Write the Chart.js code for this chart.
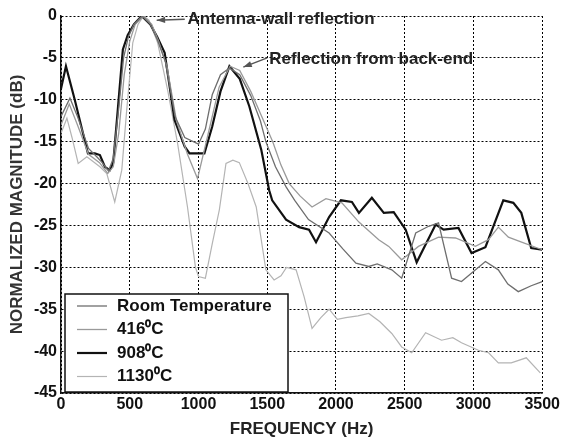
<!DOCTYPE html>
<html>
<head>
<meta charset="utf-8">
<script src="https://cdn.jsdelivr.net/npm/chart.js@4.4.1/dist/chart.umd.min.js"></script>
<style>
  html, body { margin: 0; padding: 0; background: #fff; }
  #wrap { width: 562px; height: 440px; }
</style>
</head>
<body>
<div id="wrap"><canvas id="myChart" width="562" height="440"></canvas></div>
<script>
// x ticks and y ticks
let freqTicks = [0, 500, 1000, 1500, 2000, 2500, 3000, 3500];
let dbTicks = [0, -5, -10, -15, -20, -25, -30, -35, -40, -45];

let seriesNames = ["Room Temperature", "416\u2070C", "908\u2070C", "1130\u2070C"];

// Room Temperature
let roomFreq = [0, 65, 120, 200, 260, 300, 345, 380, 420, 455, 490, 530, 590, 650, 700, 760, 830, 900, 1000, 1050, 1100, 1160, 1225, 1300, 1380, 1450, 1490, 1560, 1637, 1700, 1800, 1950, 2050, 2145, 2239, 2300, 2406, 2478, 2580, 2674, 2746, 2841, 2913, 3000, 3087, 3181, 3250, 3326, 3420, 3500];
let roomDb = [-12, -9.8, -12, -15.8, -16.8, -17.5, -18.5, -17, -11, -5, -2.5, -1, 0, -1, -2.8, -5.5, -12, -14.5, -15.3, -13.5, -9.4, -7, -6.2, -7, -9.5, -12.5, -15, -18, -20.4, -22, -24.3, -25.9, -27.8, -29.5, -29.9, -29.6, -30.3, -31.3, -25.9, -25.1, -24.7, -31.3, -31.7, -30.5, -29.3, -30.3, -32, -32.9, -32.2, -31.7];

// 416 C
let t416Freq = [0, 60, 120, 200, 280, 340, 380, 420, 460, 500, 540, 600, 660, 710, 770, 840, 920, 993, 1080, 1150, 1230, 1300, 1380, 1460, 1540, 1600, 1660, 1740, 1826, 1927, 2043, 2167, 2311, 2384, 2478, 2600, 2746, 2870, 3014, 3109, 3181, 3254, 3350, 3500];
let t416Db = [-13, -10.5, -13, -16.5, -17.5, -18.8, -18, -14, -7, -3, -1, 0, -1, -3, -6, -12.5, -16.5, -19.4, -13.4, -8.5, -6, -6.5, -9, -12, -15, -17.8, -20, -21.5, -22.8, -21.8, -22.3, -24.6, -26.7, -27.5, -29.1, -27.5, -26.4, -26.5, -27.5, -26.7, -25.2, -26.4, -27, -27.9];

// 908 C
let t908Freq = [0, 36, 100, 196, 246, 283, 319, 355, 380, 413, 450, 485, 530, 587, 650, 700, 754, 826, 900, 935, 1043, 1100, 1160, 1225, 1300, 1370, 1457, 1514, 1536, 1637, 1732, 1804, 1855, 1950, 2036, 2116, 2167, 2261, 2348, 2420, 2507, 2587, 2725, 2783, 2891, 2986, 3087, 3217, 3290, 3348, 3420, 3500];
let t908Db = [-8.7, -6, -10, -16.4, -16.4, -16.6, -18, -18.4, -17.5, -11.2, -4, -2.3, -1, 0, -1, -2.5, -4.4, -12.4, -15.6, -16.4, -16.4, -13.2, -9, -6, -7.5, -10.8, -16, -20.8, -22, -24.3, -25.2, -25.5, -27, -24, -22, -22.2, -23.5, -21.7, -23.5, -23.4, -25.5, -29.4, -24.9, -25.5, -25.3, -28.3, -27.6, -22, -22.3, -23.5, -27.7, -27.9];

// 1130 C
let t1130Freq = [0, 43, 80, 125, 188, 283, 333, 391, 442, 478, 522, 560, 600, 640, 703, 775, 848, 920, 978, 1000, 1050, 1101, 1152, 1200, 1250, 1297, 1360, 1420, 1490, 1550, 1600, 1640, 1710, 1768, 1826, 1890, 1950, 2010, 2072, 2160, 2239, 2320, 2406, 2478, 2551, 2652, 2768, 2850, 2913, 3036, 3110, 3181, 3275, 3384, 3486];
let t1130Db = [-14, -12.2, -14.5, -17.6, -16.8, -18, -18.8, -22.2, -18.4, -11.2, -3.2, -1, 0, -0.5, -3.2, -8.8, -15.2, -22.8, -30, -31.1, -31.3, -27.1, -23.1, -17.6, -17.2, -17.5, -20, -22.8, -30.3, -31.5, -31, -30, -30.3, -33.5, -37.3, -36, -35, -36.2, -36, -35.8, -35.5, -36.5, -37.9, -39.5, -40.2, -37.8, -38.7, -38.4, -39, -39.9, -40.2, -41.4, -41.4, -40.8, -42.6];

let lineColors = ['#6e6e6e', '#9a9a9a', '#111111', '#b4b4b4'];
let lineWidths = [1.3, 1.3, 2.2, 1.2];

function pts(fs, vs) {
    return fs.map(function (f, i) { return { x: f, y: vs[i] }; });
}

let allData = [pts(roomFreq, roomDb), pts(t416Freq, t416Db), pts(t908Freq, t908Db), pts(t1130Freq, t1130Db)];

let fontFam = '"Liberation Sans", Arial, sans-serif';

// legend box + arrows + labels
let extrasPlugin = {
    id: 'extras',
    afterDraw: function (chart) {
        let ctx = chart.ctx;
        let xs = chart.scales.x, ys = chart.scales.y;
        let area = chart.chartArea;
        ctx.save();

        // annotations
        ctx.textBaseline = 'middle';
        ctx.textAlign = 'left';
        function arrow(fx, fy, tx, ty) {
            ctx.beginPath();
            ctx.lineWidth = 1.5;
            ctx.strokeStyle = '#555';
            ctx.moveTo(fx, fy);
            ctx.lineTo(tx, ty);
            ctx.stroke();
            let a = Math.atan2(ty - fy, tx - fx);
            ctx.beginPath();
            ctx.moveTo(tx, ty);
            ctx.lineTo(tx - 9 * Math.cos(a - 0.35), ty - 9 * Math.sin(a - 0.35));
            ctx.lineTo(tx - 9 * Math.cos(a + 0.35), ty - 9 * Math.sin(a + 0.35));
            ctx.closePath();
            ctx.fillStyle = '#555';
            ctx.fill();
        }
        arrow(xs.getPixelForValue(900), ys.getPixelForValue(-0.4), xs.getPixelForValue(696), ys.getPixelForValue(-0.5));
        arrow(xs.getPixelForValue(1500), ys.getPixelForValue(-5.0), xs.getPixelForValue(1326), ys.getPixelForValue(-6.1));
        ctx.fillStyle = '#222';
        ctx.font = 'bold 17px ' + fontFam;
        ctx.fillText('Antenna-wall reflection', xs.getPixelForValue(920), ys.getPixelForValue(-0.4));
        ctx.fillText('Reflection from back-end', xs.getPixelForValue(1514), ys.getPixelForValue(-5.2));

        // legend
        let lx = area.left + 4, ly = area.bottom - 99, lw = 223, lh = 98;
        ctx.fillStyle = '#fff';
        ctx.fillRect(lx, ly, lw, lh);
        ctx.strokeStyle = '#111';
        ctx.lineWidth = 1.5;
        ctx.strokeRect(lx, ly, lw, lh);
        ctx.font = 'bold 17px ' + fontFam;
        for (let i = 0; i < seriesNames.length; i++) {
            let yy = ly + 12 + i * 23.5;
            ctx.beginPath();
            ctx.strokeStyle = lineColors[i];
            ctx.lineWidth = lineWidths[i];
            ctx.moveTo(lx + 12, yy);
            ctx.lineTo(lx + 42, yy);
            ctx.stroke();
            ctx.fillStyle = '#111';
            ctx.fillText(seriesNames[i], lx + 52, yy);
        }
        ctx.restore();
    }
};

let myChart = document.getElementById("myChart").getContext("2d");
let magChart = new Chart(myChart, {
    type: 'line',
    data: {
        datasets: seriesNames.map(function (name, i) {
            return {
                label: name,
                data: allData[i],
                borderColor: lineColors[i],
                borderWidth: lineWidths[i],
                pointRadius: 0,
                tension: 0,
                fill: false
            };
        })
    },
    options: {
        responsive: false,
        animation: false,
        layout: { padding: { top: 16, right: 19, left: 7, bottom: 0 } },
        plugins: {
            legend: { display: false },
            tooltip: { enabled: false }
        },
        scales: {
            x: {
                type: 'linear',
                min: 0,
                max: 3500,
                afterBuildTicks: function (s) { s.ticks = freqTicks.map(function (v) { return { value: v }; }); },
                afterFit: function (s) { s.height = 47; },
                ticks: { color: '#111', font: { family: fontFam, size: 16, weight: 'bold' }, padding: 2, maxRotation: 0,
                    callback: function (v) { return String(v); } },
                grid: { color: '#000', lineWidth: 1, drawTicks: false },
                border: { display: true, color: '#111', width: 1.5, dash: [2, 2] },
                title: { display: true, text: 'FREQUENCY (Hz)', color: '#222', font: { family: fontFam, size: 17, weight: 'bold' }, padding: { top: 0, bottom: 0 } }
            },
            y: {
                type: 'linear',
                min: -45,
                max: 0,
                afterBuildTicks: function (s) { s.ticks = dbTicks.map(function (v) { return { value: v }; }); },
                afterFit: function (s) { s.width = 54; },
                ticks: { color: '#111', font: { family: fontFam, size: 16, weight: 'bold' }, padding: 4,
                    callback: function (v) { return String(v); } },
                grid: { color: '#000', lineWidth: 1, drawTicks: false },
                border: { display: true, color: '#111', width: 1.5, dash: [2, 2] },
                title: { display: true, text: 'NORMALIZED MAGNITUDE (dB)', color: '#333', font: { family: fontFam, size: 17, weight: 'bold' }, padding: { top: 0, bottom: 0 } }
            }
        }
    },
    plugins: [extrasPlugin]
});
</script>
</body>
</html>
